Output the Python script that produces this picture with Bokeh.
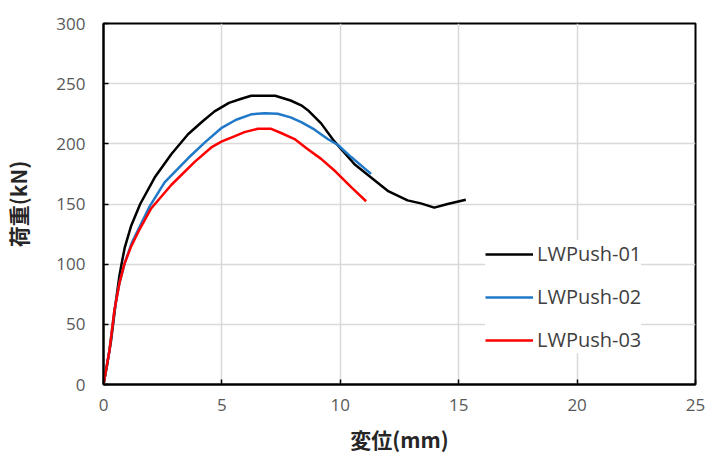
from bokeh.plotting import figure
from bokeh.models import Range1d, FixedTicker, Legend, LegendItem
from bokeh.embed import file_html
from bokeh.resources import INLINE

# Data
x_ticks = [0, 5, 10, 15, 20, 25]
y_ticks = [0, 50, 100, 150, 200, 250, 300]

s1_name = "LWPush-01"
s1_x = [0, 0.15, 0.32, 0.53, 0.67, 0.76, 0.9, 1.17, 1.55, 2.16, 2.87, 3.57, 4.2, 4.69,
        5.3, 5.82, 6.24, 6.66, 7.25, 7.9, 8.35, 8.63, 9.19, 9.75, 10.6, 11.3, 12.0,
        12.84, 13.4, 13.97, 14.53, 15.3]
s1_y = [0, 16, 36.5, 70, 90, 100, 114, 132, 150, 172, 191.5, 208, 219, 227,
        234, 237.5, 240, 240, 240, 236, 232, 228, 217, 202, 183, 172, 161,
        153, 150.5, 147, 150, 153.5]

s2_name = "LWPush-02"
s2_x = [0, 0.25, 0.46, 0.67, 0.9, 1.2, 1.55, 1.95, 2.58, 3.57, 4.27, 4.97, 5.6, 6.24,
        6.8, 7.36, 7.9, 8.35, 8.9, 9.47, 9.9, 10.46, 11.0, 11.3]
s2_y = [0, 28, 61.5, 84, 101, 118, 132, 148, 168, 188, 201, 213, 220, 224.5,
        225.5, 225, 222, 218, 212, 204, 199, 189, 180, 175]

s3_name = "LWPush-03"
s3_x = [0, 0.25, 0.46, 0.67, 0.88, 1.15, 1.5, 2.02, 2.87, 3.85, 4.55, 5.0, 5.5, 5.95,
        6.52, 7.08, 7.5, 8.07, 8.6, 9.19, 9.8, 10.46, 11.09]
s3_y = [0, 28, 61.5, 84, 100, 114, 128, 146.5, 166, 185, 197, 202, 206, 209.7,
        212.5, 212.5, 209, 204, 196, 187.5, 177, 164, 152.3]

x_label = "変位(mm)"
y_label = "荷重(kN)"

p = figure(width=710, height=464, output_backend="svg", toolbar_location=None,
           x_range=Range1d(0, 25), y_range=Range1d(0, 300),
           min_border_left=102, min_border_right=15, min_border_top=23, min_border_bottom=80)
p.background_fill_color = "white"
p.border_fill_color = "white"
p.outline_line_color = "black"
p.outline_line_width = 2

for ax in (p.xaxis[0], p.yaxis[0]):
    ax.axis_line_color = "black"
    ax.axis_line_width = 2
    ax.major_tick_line_color = "black"
    ax.major_tick_line_width = 1.5
    ax.major_tick_in = 5
    ax.major_tick_out = 0
    ax.minor_tick_line_color = None
    ax.major_label_text_color = "#595959"
    ax.major_label_text_font = "Open Sans"
    ax.major_label_text_font_size = "17px"
    ax.axis_label_text_font = "Noto Sans CJK JP"
    ax.axis_label_text_font_style = "bold"
    ax.axis_label_text_font_size = "21px"
    ax.axis_label_text_color = "#262626"

p.xaxis.ticker = FixedTicker(ticks=x_ticks)
p.yaxis.ticker = FixedTicker(ticks=y_ticks)
p.xaxis.axis_label = x_label
p.yaxis.axis_label = y_label
p.xaxis.major_label_standoff = 14
p.xaxis.axis_label_standoff = 10
p.yaxis.major_label_standoff = 18
p.yaxis.axis_label_standoff = 20

p.xgrid.ticker = FixedTicker(ticks=x_ticks)
p.ygrid.ticker = FixedTicker(ticks=y_ticks)
p.grid.grid_line_color = "#d9d9d9"
p.grid.grid_line_width = 1.5

r1 = p.line(s1_x, s1_y, line_color="#000000", line_width=2.5, line_join="round")
r2 = p.line(s2_x, s2_y, line_color="#1f78c8", line_width=2.5, line_join="round")
r3 = p.line(s3_x, s3_y, line_color="#ff0000", line_width=2.5, line_join="round")

legend = Legend(items=[LegendItem(label=s1_name, renderers=[r1]),
                       LegendItem(label=s2_name, renderers=[r2]),
                       LegendItem(label=s3_name, renderers=[r3])],
                location=(382, 31))
legend.border_line_color = None
legend.background_fill_color = "white"
legend.background_fill_alpha = 1.0
legend.glyph_width = 48
legend.glyph_height = 20
legend.label_height = 20
legend.label_standoff = 4
legend.spacing = 16
legend.padding = 10
legend.margin = 0
legend.label_text_font = "Open Sans"
legend.label_text_font_size = "20px"
legend.label_text_color = "#404040"
p.add_layout(legend, "center")

open("out.html", "w").write(file_html(p, INLINE))
